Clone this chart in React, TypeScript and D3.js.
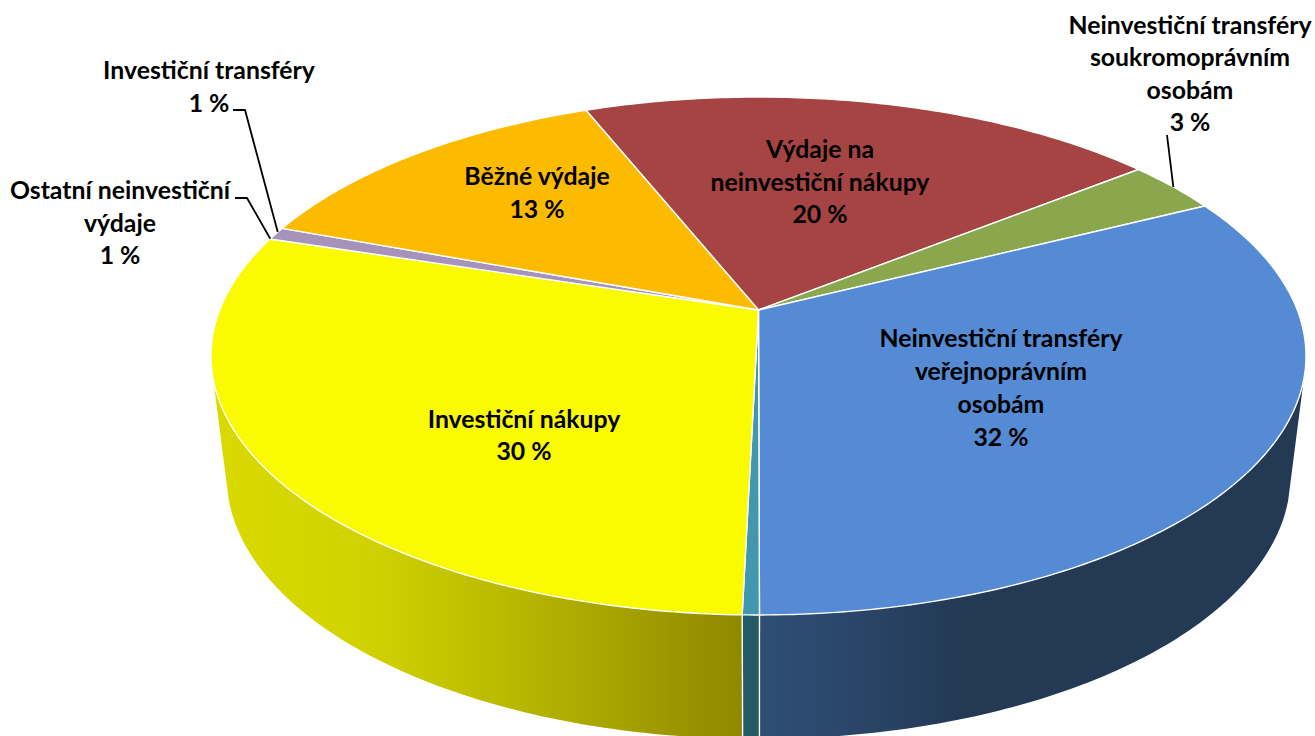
import React from "react";
import * as d3 from "d3";

const categories = [
  "Výdaje na neinvestiční nákupy",
  "Neinvestiční transféry soukromoprávním osobám",
  "Neinvestiční transféry veřejnoprávním osobám",
  "Ostatní",
  "Investiční nákupy",
  "Investiční transféry / Ostatní neinvestiční výdaje",
  "Běžné výdaje",
];
const values = [20.4, 3.3, 32.36, 0.42, 29.42, 0.8, 13.3];
const topColors = ["#a64443", "#8aa74e", "#548bd4", "#4097ae", "#fafa00", "#a692ba", "#fdbb00"];
const wallColors = ["#5a2424", "#4b5b2a", "url(#blueWall)", "#235a66", "url(#yellowWall)", "#5a4f65", "#8a6600"];

const labels = [
  { x: 820, ys: [149, 182, 214], lines: ["Výdaje na", "neinvestiční nákupy", "20 %"] },
  { x: 1190, ys: [25, 57, 90, 122], lines: ["Neinvestiční transféry", "soukromoprávním", "osobám", "3 %"] },
  { x: 1001, ys: [338, 371, 404, 437], lines: ["Neinvestiční transféry", "veřejnoprávním", "osobám", "32 %"] },
  { x: 524, ys: [419, 451], lines: ["Investiční nákupy", "30 %"] },
  { x: 120, ys: [190, 223, 255], lines: ["Ostatní neinvestiční", "výdaje", "1 %"] },
  { x: 209, ys: [70, 103], lines: ["Investiční transféry", "1 %"] },
  { x: 537, ys: [176, 209], lines: ["Běžné výdaje", "13 %"] },
];

const rad = Math.PI / 180;
const K = 0.1776;
const CX = 758.5;
const top = { y0: 310, a: 538.8, b: 250.8 };
const bottom = { y0: 429.3, a: 523.5, b: 254.7 };
const project = (p: { y0: number; a: number; b: number }, t: number): [number, number] => {
  const u = Math.sin(t);
  const v = -Math.cos(t);
  const d = 1 - K * v;
  return [CX + (p.a * u) / d, p.y0 + (p.b * v) / d];
};
const samples = (p: typeof top, t0: number, t1: number) => {
  const n = Math.max(2, Math.ceil(Math.abs(t1 - t0) / (0.75 * rad)));
  return d3.range(n + 1).map((i) => project(p, t0 + ((t1 - t0) * i) / n));
};

const START = -21.9 * rad;
const WALL_FROM = 105.4 * rad;
const WALL_TO = 254.6 * rad;
const arcs = d3
  .pie<number>()
  .sort(null)
  .startAngle(START)
  .endAngle(START + 2 * Math.PI)(values);
const line = d3.line();

const leaders = [
  { pts: [[233, 110], [245, 110]] as [number, number][], angle: 289.2 },
  { pts: [[235, 198], [247, 198]] as [number, number][], angle: 287.4 },
  { pts: [[1167, 135]] as [number, number][], angle: 57.5 },
];

export default function App() {
  const walls = arcs
    .map((s, i) => {
      const a = Math.max(s.startAngle, WALL_FROM);
      const b = Math.min(s.endAngle, WALL_TO);
      if (b <= a) return null;
      const pts = [...samples(top, a, b), ...samples(bottom, b, a)];
      const seam = [project(top, b), project(bottom, b)] as [number, number][];
      return { i, d: line(pts) + "Z", seam: b < WALL_TO ? line(seam) : null };
    })
    .filter(Boolean) as { i: number; d: string; seam: string | null }[];

  return (
    <svg width={1315} height={736} style={{ position: "absolute", left: 0, top: 0, background: "#fff" }}>
      <defs>
        <linearGradient id="yellowWall" gradientUnits="userSpaceOnUse" x1={213} x2={743} y1={0} y2={0}>
          <stop offset="0" stopColor="#dada00" />
          <stop offset="0.3" stopColor="#d1d100" />
          <stop offset="0.55" stopColor="#baba00" />
          <stop offset="1" stopColor="#8f8800" />
        </linearGradient>
        <linearGradient id="blueWall" gradientUnits="userSpaceOnUse" x1={759} x2={960} y1={0} y2={0}>
          <stop offset="0" stopColor="#2e4e76" />
          <stop offset="0.5" stopColor="#2a4569" />
          <stop offset="1" stopColor="#233954" />
        </linearGradient>
      </defs>
      {walls.map((w) => (
        <path key={w.i} d={w.d} fill={wallColors[w.i]} />
      ))}
      {walls.map((w) =>
        w.seam ? <path key={"s" + w.i} d={w.seam} stroke="#fff" strokeWidth={1.4} fill="none" /> : null
      )}
      {arcs.map((s, i) => (
        <path
          key={categories[i]}
          d={line([[CX, top.y0], ...samples(top, s.startAngle, s.endAngle)]) + "Z"}
          fill={topColors[i]}
          stroke="#fff"
          strokeWidth={1.4}
          strokeLinejoin="round"
        />
      ))}
      {leaders.map((l, i) => (
        <path
          key={i}
          d={line([...l.pts, project(top, l.angle * rad)]) as string}
          fill="none"
          stroke="#000"
          strokeWidth={1.8}
        />
      ))}
      <g fontFamily="Lato, sans-serif" fontWeight={700} fontSize={24.8} textAnchor="middle" fill="#000">
        {labels.map((l, i) =>
          l.lines.map((t, j) => (
            <text key={i + "-" + j} x={l.x} y={l.ys[j] + 8.5}>
              {t}
            </text>
          ))
        )}
      </g>
    </svg>
  );
}
